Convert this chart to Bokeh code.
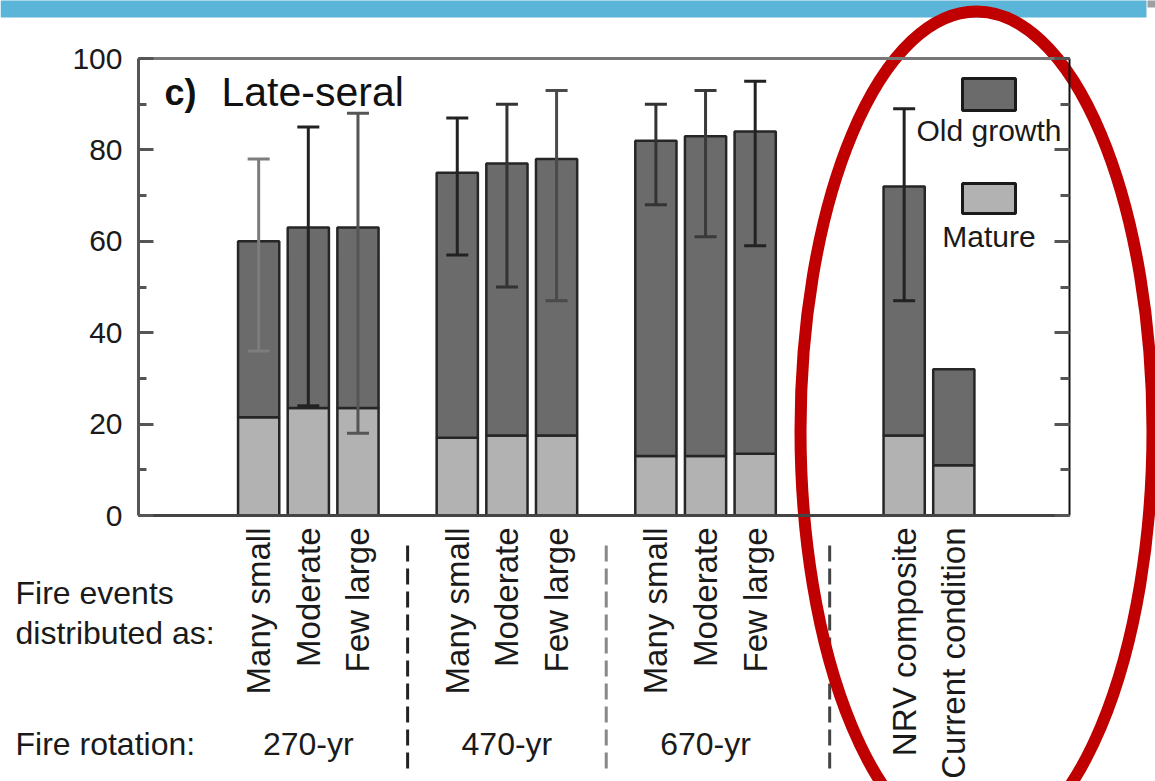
import numpy as np
from bokeh.plotting import figure
from bokeh.models import (LinearAxis, FixedTicker, SingleIntervalTicker, Range1d, Label,
                          ColumnDataSource)
from bokeh.embed import file_html
from bokeh.resources import INLINE

# ---------------- data ----------------
rotations = ["270-yr", "470-yr", "670-yr"]
distributions = ["Many small", "Moderate", "Few large"]
reference_labels = ["NRV composite", "Current condition"]
categories = distributions * 3 + reference_labels
mature = [21.5, 23.5, 23.5, 17.0, 17.5, 17.5, 13.0, 13.0, 13.5, 17.5, 11.0]
total = [60, 63, 63, 75, 77, 78, 82, 83, 84, 72, 32]
err_low = [36, 24, 18, 57, 50, 47, 68, 61, 59, 47, None]
err_high = [78, 85, 88, 87, 90, 93, 90, 93, 95, 89, None]
legend_labels = ["Old growth", "Mature"]
left_texts = ["Fire events", "distributed as:", "Fire rotation:"]
title_prefix = "c)"
title_text = "Late-seral"

# ---------------- layout ----------------
FONT = "Liberation Sans"
W, H = 1155, 781
# plot box (pixels on the page) and its data extent
PL, PR, PT, PB = 138, 1069, 58, 515
X0, X1 = -1.42, 17.33
Y0, Y1 = 0, 100
ppx = (PR - PL) / (X1 - X0)
ppy = (PB - PT) / (Y1 - Y0)


def px2x(px):
    return X0 + (px - PL) / ppx


def px2y(py):
    return Y0 + (PB - py) / ppy


positions = [1 + 4 * g + i for g in range(3) for i in range(3)] + [14, 15]
group_centers = [2 + 4 * g for g in range(3)]
separators = [4, 8, 12.5]

C_DARK = "#6b6b6b"
C_LIGHT = "#b2b2b2"
C_EDGE = "#262626"
TXT = "#1a1a1a"
ERR_COLORS = ["#7d7d7d", "#222222", "#555555", "#222222", "#333333", "#4a4a4a",
              "#333333", "#3a3a3a", "#222222", "#222222"]

p = figure(width=W, height=H, output_backend="svg", toolbar_location=None,
           x_range=Range1d(px2x(0), px2x(W)), y_range=Range1d(px2y(H), px2y(0)),
           min_border=0, x_axis_type=None, y_axis_type=None,
           background_fill_color="white", border_fill_color="white")
p.grid.visible = False
p.outline_line_color = None

# slide decoration behind everything: blue band
p.quad(left=[px2x(0)], right=[px2x(1146)], top=[px2y(-5)], bottom=[px2y(17)],
       fill_color="#5ab5d8", line_color=None)
p.quad(left=[px2x(1147)], right=[px2x(1160)], top=[px2y(-5)], bottom=[px2y(7)],
       fill_color="#a0a0a0", line_color=None)


def style_ticks(ax, in_major, in_minor):
    ax.major_tick_in = in_major
    ax.major_tick_out = 0
    ax.minor_tick_in = in_minor
    ax.minor_tick_out = 0
    ax.major_tick_line_color = "#555555"
    ax.major_tick_line_width = 3
    ax.minor_tick_line_color = "#555555"
    ax.minor_tick_line_width = 3


# left axis
yax = LinearAxis(fixed_location=X0, bounds=(Y0, Y1),
                 ticker=SingleIntervalTicker(interval=20, num_minor_ticks=2))
style_ticks(yax, 15, 8)
yax.major_label_standoff = 16
yax.major_label_text_font = FONT
yax.major_label_text_font_size = "30px"
yax.major_label_text_color = TXT
yax.axis_line_color = "#555555"
yax.axis_line_width = 3
p.add_layout(yax, "left")

# right axis (ticks only)
rax = LinearAxis(fixed_location=X1, bounds=(Y0, Y1),
                 ticker=SingleIntervalTicker(interval=20, num_minor_ticks=2))
style_ticks(rax, 15, 9)
rax.major_label_text_font_size = "0px"
rax.major_label_text_alpha = 0
rax.axis_line_color = "#111111"
rax.axis_line_width = 2
p.add_layout(rax, "right")

# top border
tax = LinearAxis(fixed_location=Y1, bounds=(X0, X1), ticker=FixedTicker(ticks=[], minor_ticks=[]))
tax.major_label_text_font_size = "0px"
tax.axis_line_color = "#777777"
tax.axis_line_width = 3
p.add_layout(tax, "above")

# bottom axis with the vertical category labels (reading upwards)
xax = LinearAxis(fixed_location=Y0, bounds=(X0, X1),
                 ticker=FixedTicker(ticks=positions, minor_ticks=[]))
xax.major_label_overrides = {pos: name for pos, name in zip(positions, categories)}
xax.major_label_orientation = np.pi / 2
xax.major_tick_in = 0
xax.major_tick_out = 0
xax.minor_tick_in = 0
xax.minor_tick_out = 0
xax.major_label_standoff = 12
xax.major_label_text_font = FONT
xax.major_label_text_font_size = "33px"
xax.major_label_text_color = TXT
xax.axis_line_color = "#444444"
xax.axis_line_width = 3
p.add_layout(xax, "below")

# bars
old = [t - m for t, m in zip(total, mature)]
src = ColumnDataSource(dict(x=positions, mature=mature, total=total, old=old))
p.vbar(x="x", bottom=0, top="mature", width=0.83, fill_color=C_LIGHT,
       line_color=C_EDGE, line_width=2.5, source=src)
p.vbar(x="x", bottom="mature", top="total", width=0.83, fill_color=C_DARK,
       line_color=C_EDGE, line_width=2.5, source=src)

# error bars
ex = [x for x, lo in zip(positions, err_low) if lo is not None]
elo = [lo for lo in err_low if lo is not None]
ehi = [hi for hi in err_high if hi is not None]
cap = 11 / ppx
esrc = ColumnDataSource(dict(x=ex, lo=elo, hi=ehi,
                             xl=[x - cap for x in ex], xr=[x + cap for x in ex],
                             c=ERR_COLORS[:len(ex)]))
p.segment(x0="x", y0="lo", x1="x", y1="hi", line_color="c", line_width=3, source=esrc)
p.segment(x0="xl", y0="hi", x1="xr", y1="hi", line_color="c", line_width=3, source=esrc)
p.segment(x0="xl", y0="lo", x1="xr", y1="lo", line_color="c", line_width=3, source=esrc)

# legend (swatches with labels underneath)
lx = px2x(988.5)
sw = 53 / ppx
p.rect(x=[lx, lx], y=[(px2y(78) + px2y(110)) / 2, (px2y(183) + px2y(213)) / 2],
       width=sw, height=[px2y(78) - px2y(110), px2y(183) - px2y(213)],
       fill_color=[C_DARK, C_LIGHT], line_color=TXT, line_width=3)
for lab, py in zip(legend_labels, [130, 236]):
    p.add_layout(Label(x=lx, y=px2y(py), text=lab, text_align="center",
                       text_baseline="middle", text_font=FONT,
                       text_font_size="30px", text_color=TXT))

# panel title
p.add_layout(Label(x=px2x(164), y=px2y(92), text=title_prefix, text_font=FONT,
                   text_font_size="36px", text_font_style="bold",
                   text_baseline="middle", text_color="#111111"))
p.add_layout(Label(x=px2x(221), y=px2y(91), text=title_text, text_font=FONT,
                   text_font_size="41px", text_baseline="middle",
                   text_color="#111111"))

# texts below the axis
for txt, py in zip(left_texts, [592, 632, 743]):
    p.add_layout(Label(x=px2x(15), y=px2y(py), text=txt, text_font=FONT,
                       text_font_size="32px", text_baseline="middle",
                       text_color=TXT))
for gx, txt in zip(group_centers, rotations):
    p.add_layout(Label(x=gx, y=px2y(743), text=txt, text_font=FONT,
                       text_font_size="32px", text_align="center",
                       text_baseline="middle", text_color=TXT))

# dashed separators between the fire-rotation groups
p.segment(x0=separators, x1=separators, y0=[px2y(545)] * 3, y1=[px2y(772)] * 3,
          line_color=["#222222", "#888888", "#444444"], line_width=3, line_dash="16 7")

# slide decoration: red ellipse on top
cx, cy = px2x(976), px2y(430)
p.ellipse(x=[cx], y=[cy], width=[2 * 176 / ppx], height=[2 * 419 / ppy],
          fill_color=None, line_color="#c00000", line_width=12)

open("out.html", "w").write(file_html(p, INLINE))
